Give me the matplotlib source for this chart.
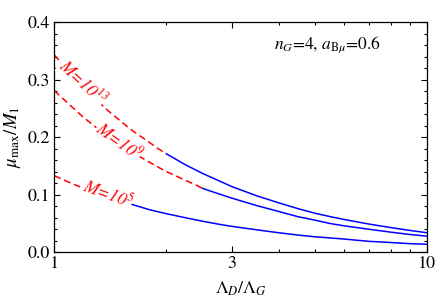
import matplotlib
matplotlib.use("Agg")
import matplotlib.pyplot as plt
from matplotlib.ticker import FixedLocator, FixedFormatter, NullFormatter, MultipleLocator, FormatStrFormatter

plt.rcParams["font.family"] = ["STIXGeneral", "DejaVu Serif"]
plt.rcParams["mathtext.fontset"] = "stix"

# M = 10^13
top_dash_x = [1, 1.1, 1.2, 1.3, 1.4, 1.5, 1.6, 1.7, 1.8, 1.9, 2.0]
top_dash_y = [0.343, 0.312, 0.286, 0.264, 0.245, 0.229, 0.214, 0.202, 0.191, 0.180, 0.171]
top_solid_x = [2.0, 2.25, 2.5, 2.75, 3, 3.5, 4, 4.5, 5, 5.5, 6, 7, 8, 9, 10]
top_solid_y = [0.171, 0.152, 0.137, 0.125, 0.114, 0.098, 0.086, 0.076, 0.068, 0.062, 0.057,
               0.049, 0.043, 0.038, 0.034]

# M = 10^9
mid_dash_x = [1, 1.1, 1.2, 1.3, 1.4, 1.5, 1.6, 1.75, 1.9, 2, 2.1, 2.25, 2.4, 2.5]
mid_dash_y = [0.281, 0.256, 0.234, 0.216, 0.201, 0.187, 0.176, 0.161, 0.148, 0.140, 0.134,
              0.125, 0.117, 0.111]
mid_solid_x = [2.5, 2.75, 3, 3.5, 4, 4.5, 5, 5.5, 6, 7, 8, 9, 10]
mid_solid_y = [0.111, 0.102, 0.094, 0.081, 0.071, 0.062, 0.056, 0.050, 0.046, 0.040, 0.035,
               0.031, 0.028]

# M = 10^5
low_dash_x = [1, 1.1, 1.2, 1.3, 1.4, 1.5, 1.6]
low_dash_y = [0.133, 0.121, 0.111, 0.102, 0.095, 0.089, 0.084]
low_solid_x = [1.6, 1.8, 2, 2.25, 2.5, 2.75, 3, 3.5, 4, 4.5, 5, 6, 7, 8, 9, 10]
low_solid_y = [0.084, 0.074, 0.067, 0.060, 0.054, 0.049, 0.045, 0.039, 0.034, 0.030, 0.027,
               0.023, 0.019, 0.017, 0.015, 0.014]

fig = plt.figure(figsize=(4.36, 3.02), dpi=100)
ax = fig.add_axes([0.1245, 0.1646, 0.8542, 0.7626])

for dx, dy, sx, sy in [
    (top_dash_x, top_dash_y, top_solid_x, top_solid_y),
    (mid_dash_x, mid_dash_y, mid_solid_x, mid_solid_y),
    (low_dash_x, low_dash_y, low_solid_x, low_solid_y),
]:
    ax.plot(dx, dy, color="#ff0000", lw=1.1, dashes=(4.5, 2.5))
    ax.plot(sx, sy, color="#0000ff", lw=1.1)

label_style = dict(color="#ff0000", fontsize=12.5, style="italic", ha="center", va="center",
                   bbox=dict(facecolor="white", edgecolor="none", pad=0.1))
ax.text(1.19, 0.295, r"$M$=10$^{13}$", rotation=-43, **label_style)
ax.text(1.49, 0.193, r"$M$=10$^{9}$", rotation=-36, **label_style)
ax.text(1.39, 0.101, r"$M$=10$^{5}$", rotation=-20, **label_style)

ax.text(0.876, 0.9, r"$n_G$=4, $a_{\mathrm{B}\mu}$=0.6", transform=ax.transAxes,
        ha="right", va="center", fontsize=12.5)

ax.set_xscale("log")
ax.set_xlim(1, 10)
ax.set_ylim(0, 0.4)
ax.xaxis.set_major_locator(FixedLocator([1, 3, 10]))
ax.xaxis.set_minor_locator(FixedLocator([2, 4, 5, 6, 7, 8, 9]))
ax.xaxis.set_major_formatter(FixedFormatter(["1", "3", "10"]))
ax.xaxis.set_minor_formatter(NullFormatter())
ax.yaxis.set_major_locator(MultipleLocator(0.1))
ax.yaxis.set_minor_locator(MultipleLocator(0.02))
ax.yaxis.set_major_formatter(FormatStrFormatter("%.1f"))
ax.tick_params(which="both", direction="in", top=True, right=True, labelsize=13, width=0.8)
ax.tick_params(which="major", length=4, pad=3)
ax.tick_params(which="minor", length=2.2)
for spine in ax.spines.values():
    spine.set_linewidth(0.9)

ax.set_xlabel(r"$\Lambda_D/\Lambda_G$", fontsize=13, labelpad=5.5)
ax.set_ylabel(r"$\mu_{\max}/M_1$", fontsize=13.5, labelpad=3)

fig.savefig("out.png", dpi=100)
